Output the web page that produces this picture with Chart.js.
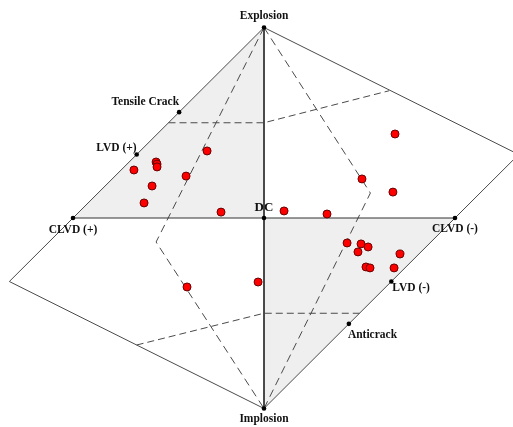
<!DOCTYPE html>
<html>
<head>
<meta charset="utf-8">
<script src="https://cdn.jsdelivr.net/npm/chart.js@4/dist/chart.umd.min.js"></script>
<style>
html,body{margin:0;padding:0;background:#fff;}
#wrap{width:513px;height:427px;position:relative;}
</style>
</head>
<body>
<div id="wrap"><canvas id="c"></canvas></div>
<script>
// Hudson source-type plot (u = tau, v = k)
const eventU = [0.686,-0.298,-0.565,-0.560,-0.560,-0.681,-0.408,-0.586,0.513,0.675,-0.628,-0.225,0.105,0.330,0.435,0.508,0.545,0.492,0.712,0.534,0.555,0.681,-0.031,-0.403];
const eventV = [0.441,0.352,0.294,0.283,0.268,0.252,0.220,0.168,0.205,0.136,0.079,0.031,0.037,0.021,-0.131,-0.136,-0.152,-0.178,-0.189,-0.257,-0.262,-0.262,-0.336,-0.362];

const refNames = ["Explosion","Implosion","DC","CLVD (+)","CLVD (-)","Tensile Crack","LVD (+)","LVD (-)","Anticrack"];
const refU = [0, 0, 0, -1, 1, -4/9, -2/3, 2/3, 4/9];
const refV = [1, -1, 0, 0, 0, 5/9, 1/3, -1/3, -5/9];

const outlineU = [0, 4/3, 0, -4/3, 0];
const outlineV = [1, 1/3, -1, -1/3, 1];
const shadeUpperU = [0, -1, 0, 0];
const shadeUpperV = [1, 0, 0, 1];
const shadeLowerU = [0, 1, 0, 0];
const shadeLowerV = [-1, 0, 0, -1];
const dashTopU = [-0.5, 0, 0.655];
const dashTopV = [0.5, 0.5, 0.668];
const dashBotU = [-2/3, 0, 0.5];
const dashBotV = [-2/3, -0.5, -0.5];
const dashLeftU = [0, -0.565, 0];
const dashLeftV = [1, -0.126, -1];
const dashRightU = [0, 0.557, 0];
const dashRightV = [1, 0.131, -1];

const pts = (us, vs) => us.map((u, i) => ({x: u, y: vs[i]}));

const lineStyle = {showLine: true, pointRadius: 0, tension: 0, fill: false, borderColor: '#4a4a4a', borderWidth: 1};

const labelPos = {
  "Explosion": {dx: 0, dy: -11, align: 'center'},
  "Implosion": {dx: 0, dy: 11, align: 'center'},
  "DC": {dx: 0, dy: -10, align: 'center'},
  "CLVD (+)": {dx: 0, dy: 12, align: 'center'},
  "CLVD (-)": {dx: 0, dy: 11, align: 'center'},
  "Tensile Crack": {dx: 0, dy: -10, align: 'right'},
  "LVD (+)": {dx: 0, dy: -6, align: 'right'},
  "LVD (-)": {dx: 1, dy: 7, align: 'left'},
  "Anticrack": {dx: -1, dy: 11, align: 'left'}
};

const labelPlugin = {
  id: 'refLabels',
  afterDatasetsDraw(chart) {
    const ctx = chart.ctx, xs = chart.scales.x, ys = chart.scales.y;
    ctx.save();
    ctx.fillStyle = '#111';
    ctx.textBaseline = 'middle';
    refNames.forEach((n, i) => {
      const p = labelPos[n];
      ctx.font = (n === 'DC' ? 'bold 13px' : 'bold 11.5px') + ' "Liberation Serif", "Times New Roman", serif';
      ctx.textAlign = p.align;
      ctx.fillText(n, xs.getPixelForValue(refU[i]) + p.dx, ys.getPixelForValue(refV[i]) + p.dy);
    });
    ctx.restore();
  }
};

new Chart(document.getElementById('c'), {
  type: 'scatter',
  data: {
    datasets: [
      {data: pts(eventU, eventV), pointRadius: 4, pointHoverRadius: 4, backgroundColor: '#ff0000', borderColor: '#6a0000', borderWidth: 1, order: 0},
      {data: pts(refU, refV), pointRadius: 2.3, backgroundColor: '#000', borderColor: '#000', borderWidth: 0, order: 1},
      Object.assign({data: pts([0, 0], [1, -1]), order: 2}, lineStyle, {borderColor: '#333'}),
      Object.assign({data: pts([-1, 1], [0, 0]), order: 2}, lineStyle, {borderColor: '#333'}),
      Object.assign({data: pts(outlineU, outlineV), order: 2}, lineStyle),
      Object.assign({data: pts(dashTopU, dashTopV), order: 2, borderDash: [7, 4]}, lineStyle),
      Object.assign({data: pts(dashBotU, dashBotV), order: 2, borderDash: [7, 4]}, lineStyle),
      Object.assign({data: pts(dashLeftU, dashLeftV), order: 2, borderDash: [8, 5]}, lineStyle),
      Object.assign({data: pts(dashRightU, dashRightV), order: 2, borderDash: [8, 5]}, lineStyle),
      {data: pts(shadeUpperU, shadeUpperV), showLine: true, pointRadius: 0, tension: 0, borderWidth: 0, borderColor: 'rgba(0,0,0,0)', backgroundColor: '#efefef', fill: 'shape', order: 3},
      {data: pts(shadeLowerU, shadeLowerV), showLine: true, pointRadius: 0, tension: 0, borderWidth: 0, borderColor: 'rgba(0,0,0,0)', backgroundColor: '#efefef', fill: 'shape', order: 3}
    ]
  },
  options: {
    responsive: true,
    maintainAspectRatio: false,
    animation: false,
    events: [],
    layout: {padding: 0, autoPadding: false},
    clip: false,
    plugins: {legend: {display: false}, tooltip: {enabled: false}},
    scales: {
      x: {type: 'linear', display: false, min: -264/191, max: 249/191},
      y: {type: 'linear', display: false, min: -209/190.5, max: 218/190.5}
    }
  },
  plugins: [labelPlugin]
});
</script>
</body>
</html>
